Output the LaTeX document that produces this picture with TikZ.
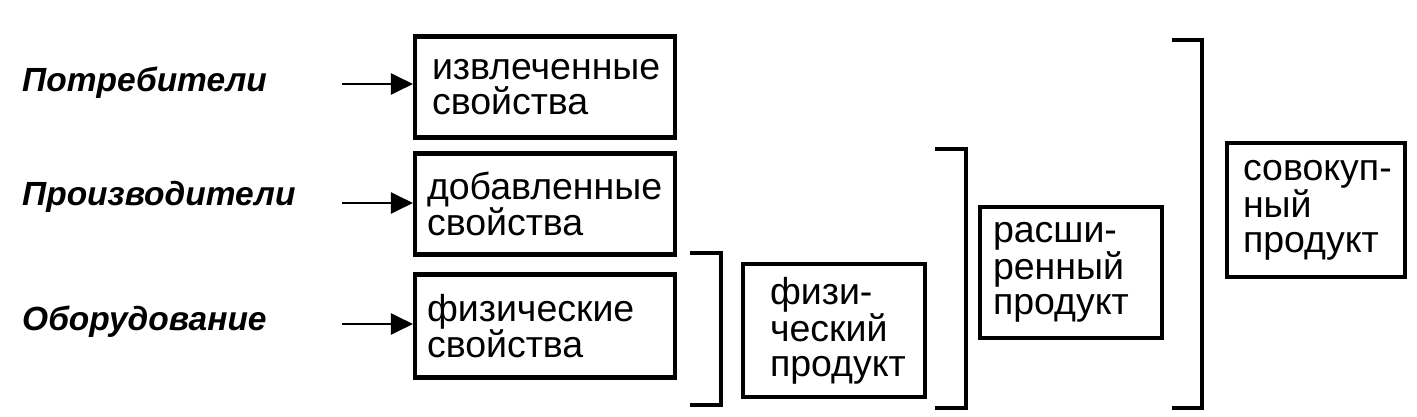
\documentclass[tikz,border=0pt]{standalone}
\usepackage{fontspec}
\setmainfont{Liberation Sans}
\usetikzlibrary{arrows.meta}
\begin{document}
\begin{tikzpicture}[x=1pt,y=-1pt,
  box/.style={draw, line width=4.2pt, inner ysep=0pt, align=left,
    font=\fontsize{37.5}{35}\selectfont},
  who/.style={anchor=west, inner sep=0pt, font=\fontsize{33.5}{35}\selectfont\bfseries\itshape},
  arr/.style={line width=2.8pt, -{Triangle[length=22pt,width=21pt]}},
  brk/.style={line width=3.8pt, line join=miter}]
\useasboundingbox (0,0) rectangle (1417,417);
% left labels
\node[who] (w1) at (22,83) {Потребители};
\node[who] (w2) at (22,197) {Производители};
\node[who] (w3) at (22,322) {Оборудование};
% property boxes
\node[box, minimum width=260pt, minimum height=101pt, inner xsep=17pt, text width=226pt] (b1) at (545,87) {\mbox{извлеченные}\\\mbox{свойства}};
\node[box, minimum width=260pt, minimum height=101pt, inner xsep=12pt, text width=236pt] (b2) at (545,204) {\mbox{добавленные}\\\mbox{свойства}};
\node[box, minimum width=260pt, minimum height=103pt, inner xsep=12pt, text width=236pt] (b3) at (545,326) {\mbox{физические}\\\mbox{свойства}};
% arrows
\coordinate (a1) at (342,84);
\coordinate (a2) at (342,203);
\coordinate (a3) at (342,324);
\draw[arr] (a1) -- (a1 -| b1.west);
\draw[arr] (a2) -- (a2 -| b2.west);
\draw[arr] (a3) -- (a3 -| b3.west);
% product boxes
\node[box, minimum width=182pt, minimum height=133pt, inner xsep=27pt, text width=128pt] (b4) at (834,330.5) {\mbox{физи-}\\\mbox{ческий}\\\mbox{продукт}};
\node[box, minimum width=182pt, minimum height=131pt, inner xsep=13pt, text width=156pt] (b5) at (1071,272.5) {\mbox{расши-}\\\mbox{ренный}\\\mbox{продукт}};
\node[box, minimum width=178pt, minimum height=134pt, inner xsep=16pt, text width=146pt] (b6) at (1316,210) {\mbox{совокуп-}\\\mbox{ный}\\\mbox{продукт}};
% brackets
\coordinate (k1a) at (690,253); \coordinate (k1b) at (721,405);
\coordinate (k2a) at (935,149); \coordinate (k2b) at (966,408);
\coordinate (k3a) at (1172,40); \coordinate (k3b) at (1202,408);
\draw[brk] (k1a) -| (k1b) -- (k1a |- k1b);
\draw[brk] (k2a) -| (k2b) -- (k2a |- k2b);
\draw[brk] (k3a) -| (k3b) -- (k3a |- k3b);
\end{tikzpicture}
\end{document}
